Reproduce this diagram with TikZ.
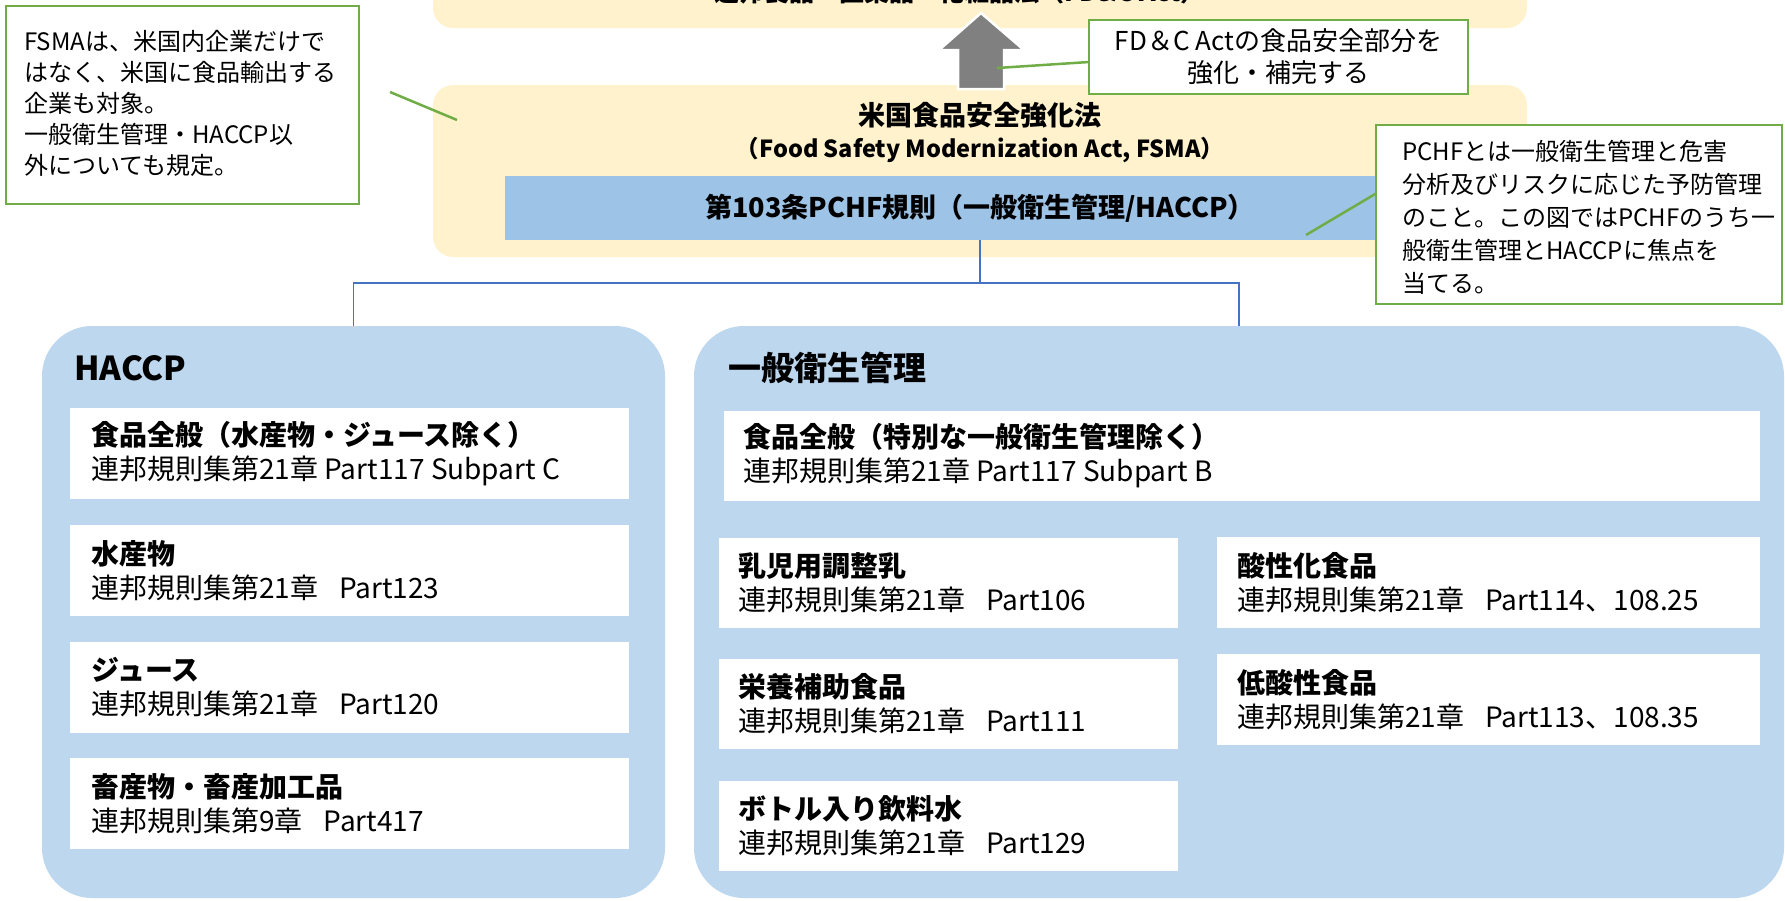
\documentclass[tikz,border=0pt]{standalone}
\usepackage{fontspec}
\setmainfont{Noto Sans CJK JP}
\definecolor{yel}{HTML}{FFF2CC}
\definecolor{barb}{HTML}{9DC3E6}
\definecolor{bigb}{HTML}{BDD7EE}
\definecolor{noteg}{HTML}{70AD47}
\definecolor{connb}{HTML}{4472C4}
\definecolor{arrowg}{HTML}{808080}
\begin{document}
\begin{tikzpicture}[x=1pt,y=-1pt,
  panel/.style={rectangle, inner sep=0pt, outer sep=0pt, anchor=north west},
  wbox/.style={panel, fill=white},
  notebox/.style={panel, fill=white, draw=noteg, line width=2.5pt},
  ttl/.style={font=\fontsize{27}{32}\selectfont\bfseries},
  itxt/.style={anchor=west, align=left, inner sep=0pt, font=\fontsize{28}{34}\selectfont},
  ntxt/.style={anchor=west, align=left, inner sep=0pt, font=\fontsize{24}{31}\selectfont},
  bigttl/.style={anchor=west, inner sep=0pt, font=\fontsize{33}{38}\selectfont\bfseries},
  conn/.style={draw=connb, line width=1.5pt},
  gline/.style={draw=noteg, line width=2.5pt}]
\useasboundingbox (0,0) rectangle (1785,900);
\clip (0,0) rectangle (1785,900);

% top (cut off) box
\node[panel, fill=yel, rounded corners=20pt, minimum width=1094pt, minimum height=108pt] (fdca) at (433,-80) {};
\node[font=\fontsize{25}{30}\selectfont\bfseries, anchor=base] (fdcat) at (960,1) {連邦食品・医薬品・化粧品法（FD\&C Act）};

% FSMA box
\node[panel, fill=yel, rounded corners=20pt, minimum width=1094pt, minimum height=172pt] (fsma) at (433,85) {};
\node[ttl] (fsmat1) at (980,115) {米国食品安全強化法};
\node[font=\fontsize{23.5}{28}\selectfont\bfseries] (fsmat2) at (980,150) {（Food Safety Modernization Act, FSMA）};
\node[panel, fill=barb, minimum width=950pt, minimum height=64pt, ttl] (bar) at (505,176) {第103条PCHF規則（一般衛生管理/HACCP）};

% arrow
\draw[white, line width=2.5pt, fill=arrowg] (981,13) -- (1024,50) -- (1004,50) -- (1004,89) -- (958,89) -- (958,50) -- (939,50) -- cycle;
\coordinate (arrowpt) at (997,68);

% big panels and connectors
\node[panel, fill=bigb, rounded corners=50pt, minimum width=623pt, minimum height=572pt] (haccp) at (42,326) {};
\node[panel, fill=bigb, rounded corners=50pt, minimum width=1090pt, minimum height=572pt] (gen) at (694,326) {};
\draw[conn] (bar.south) -- ++(0,43) coordinate (jn) -| (haccp.north);
\draw[conn] (jn) -| (gen.north);

% notes
\node[notebox, minimum width=379pt, minimum height=74pt] (fdcnote) at (1089,20) {};
\node[align=center, inner sep=0pt, font=\fontsize{26}{32}\selectfont] (fdcnotet) at (fdcnote.center) {FD＆C Actの食品安全部分を\\強化・補完する};
\draw[gline] (arrowpt) -- ([yshift=-5pt]fdcnote.west);

\node[notebox, minimum width=353pt, minimum height=198pt] (fsmanote) at (6,6) {};
\node[ntxt] (fsmanotet) at ([xshift=18pt, yshift=2pt]fsmanote.west) {FSMAは、米国内企業だけで\\はなく、米国に食品輸出する\\企業も対象。\\一般衛生管理・HACCP以\\外についても規定。};
\coordinate (n1a) at (390,92);
\coordinate (n1b) at (457,120);
\draw[gline] (n1a) -- (n1b);

\node[notebox, minimum width=406pt, minimum height=179pt] (pchfnote) at (1376,125) {};
\node[ntxt, font=\fontsize{24}{33}\selectfont] (pchfnotet) at ([xshift=26pt, yshift=-3pt]pchfnote.west) {PCHFとは一般衛生管理と危害\\分析及びリスクに応じた予防管理\\のこと。この図ではPCHFのうち一\\般衛生管理とHACCPに焦点を\\当てる。};
\coordinate (n3a) at (1306,235);
\draw[gline] (n3a) -- ([yshift=21pt]pchfnote.west);

% titles
\node[bigttl] (haccpt) at (74,368) {HACCP};
\node[bigttl] (gent) at (728,368) {一般衛生管理};

% HACCP boxes
\node[wbox, minimum width=559pt, minimum height=91pt] (h1) at (70,408) {};
\node[itxt] (h1t) at ([xshift=21pt]h1.west) {\textbf{食品全般（水産物・ジュース除く）}\\連邦規則集第21章 Part117 Subpart C};
\node[wbox, minimum width=559pt, minimum height=91pt] (h2) at (70,525) {};
\node[itxt] (h2t) at ([xshift=21pt]h2.west) {\textbf{水産物}\\連邦規則集第21章\hspace{0.75em}Part123};
\node[wbox, minimum width=559pt, minimum height=91pt] (h3) at (70,642) {};
\node[itxt] (h3t) at ([xshift=21pt]h3.west) {\textbf{ジュース}\\連邦規則集第21章\hspace{0.75em}Part120};
\node[wbox, minimum width=559pt, minimum height=91pt] (h4) at (70,758) {};
\node[itxt] (h4t) at ([xshift=21pt]h4.west) {\textbf{畜産物・畜産加工品}\\連邦規則集第9章\hspace{0.75em}Part417};

% general hygiene boxes
\node[wbox, minimum width=1036pt, minimum height=90pt] (ga) at (724,411) {};
\node[itxt] (gat) at ([xshift=19pt]ga.west) {\textbf{食品全般（特別な一般衛生管理除く）}\\連邦規則集第21章 Part117 Subpart B};
\node[wbox, minimum width=459pt, minimum height=90pt] (gb) at (719,538) {};
\node[itxt] (gbt) at ([xshift=19pt]gb.west) {\textbf{乳児用調整乳}\\連邦規則集第21章\hspace{0.75em}Part106};
\node[wbox, minimum width=543pt, minimum height=91pt] (gc) at (1217,537) {};
\node[itxt] (gct) at ([xshift=20pt]gc.west) {\textbf{酸性化食品}\\連邦規則集第21章\hspace{0.75em}Part114、108.25};
\node[wbox, minimum width=459pt, minimum height=90pt] (gd) at (719,659) {};
\node[itxt] (gdt) at ([xshift=19pt]gd.west) {\textbf{栄養補助食品}\\連邦規則集第21章\hspace{0.75em}Part111};
\node[wbox, minimum width=543pt, minimum height=91pt] (ge) at (1217,654) {};
\node[itxt] (get) at ([xshift=20pt]ge.west) {\textbf{低酸性食品}\\連邦規則集第21章\hspace{0.75em}Part113、108.35};
\node[wbox, minimum width=459pt, minimum height=90pt] (gf) at (719,781) {};
\node[itxt] (gft) at ([xshift=19pt]gf.west) {\textbf{ボトル入り飲料水}\\連邦規則集第21章\hspace{0.75em}Part129};
\end{tikzpicture}
\end{document}
